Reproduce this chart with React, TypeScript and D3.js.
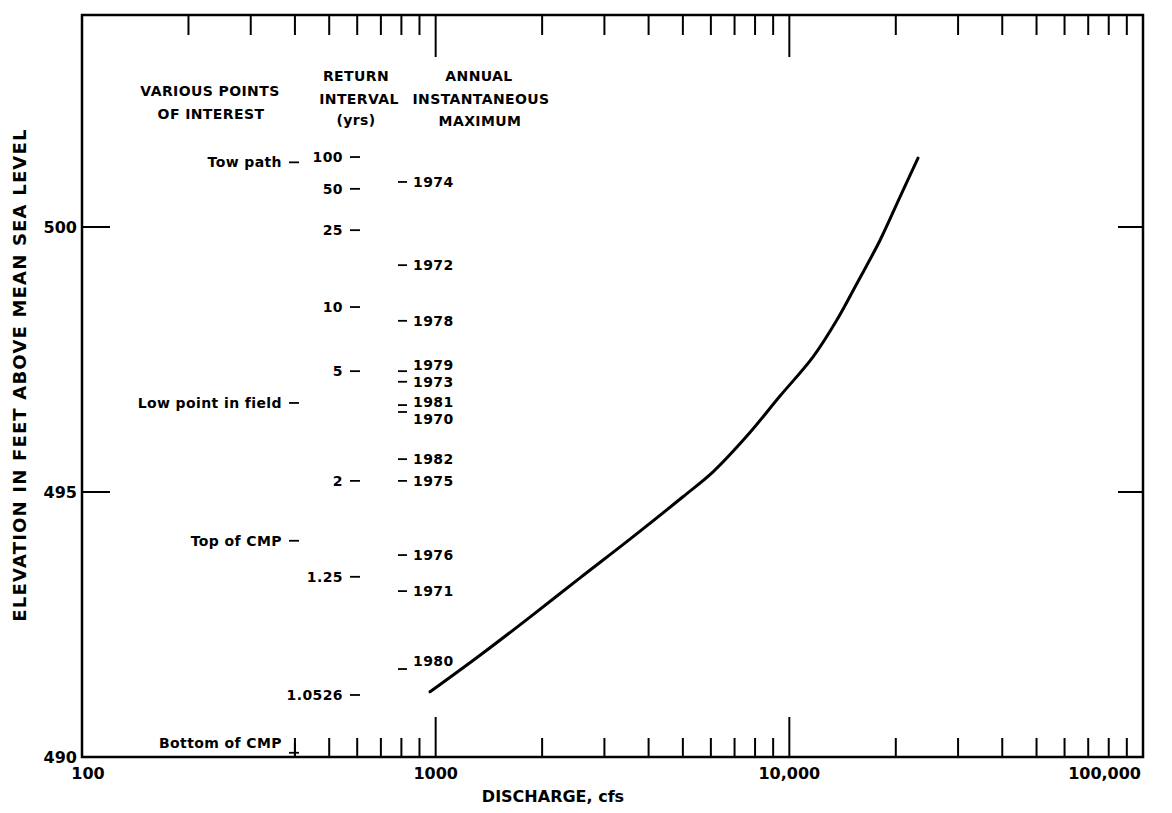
import React from 'react'
import * as d3 from 'd3'

// rating curve, discharge (cfs) vs stage (ft above msl)
const discharge = [964, 1335, 1848, 2560, 3544, 5003, 6085, 7594, 9410, 11670, 13640, 15540, 18050, 20560, 23110]
const elevation = [491.23, 491.92, 492.64, 493.38, 494.11, 494.91, 495.38, 496.06, 496.81, 497.55, 498.25, 498.94, 499.75, 500.57, 501.3]

const pointNames = ['Tow path', 'Low point in field', 'Top of CMP', 'Bottom of CMP']
const pointElev = [501.22, 496.68, 494.08, 490.08]

const returnLabels = ['100', '50', '25', '10', '5', '2', '1.25', '1.0526']
const returnElev = [501.32, 500.72, 499.94, 498.49, 497.28, 495.21, 493.4, 491.17]

const years = ['1974', '1972', '1978', '1979', '1973', '1981', '1970', '1982', '1975', '1976', '1971', '1980']
const yearElev = [500.85, 499.28, 498.23, 497.28, 497.08, 496.64, 496.51, 495.62, 495.21, 493.81, 493.13, 491.66]

const xTickLabels = ['100', '1000', '10,000', '100,000']
const yTickValues = [490, 495, 500]

const width = 1172
const height = 813
const font = '"DejaVu Sans", sans-serif'

// label nudges to keep crowded labels readable (pixels)
const yearDy: Record<string, number> = { '1979': -6, '1981': -3, '1970': 7, '1980': -8 }
const pointDy: Record<string, number> = { 'Bottom of CMP': -10 }

export default function App () {
  const x = d3.scaleLog().domain([100, 100000]).range([82, 1143])
  const y = d3.scaleLinear().domain([490, 504]).range([757, 15])

  const line = d3.line<number>()
    .x((d, i) => x(discharge[i]))
    .y(d => y(d))
    .curve(d3.curveCatmullRom.alpha(0.5))

  const minor: number[] = []
  ;[100, 1000, 10000].forEach(dec => {
    for (let k = 2; k <= 9; k++) minor.push(dec * k)
  })
  const major = [1000, 10000]
  const bottomMinor = minor.filter(v => v >= 400)

  const top = y.range()[1]
  const bottom = y.range()[0]
  const left = x.range()[0]
  const right = x.range()[1]

  const textStyle = { fontFamily: font, fontWeight: 700, fill: '#000' }

  return (
    <svg width={width} height={height} style={{ position: 'absolute', left: 0, top: 0, background: '#fff' }}>
      <rect x={0} y={0} width={width} height={height} fill='#fff' />
      <g stroke='#000' fill='none'>
        <rect x={left} y={top} width={right - left} height={bottom - top} strokeWidth={2.5} />
        {minor.map(v => <line key={'tm' + v} x1={x(v)} x2={x(v)} y1={top} y2={top + 20} strokeWidth={2} />)}
        {major.map(v => <line key={'tM' + v} x1={x(v)} x2={x(v)} y1={top} y2={top + 42} strokeWidth={2} />)}
        {bottomMinor.map(v => <line key={'bm' + v} x1={x(v)} x2={x(v)} y1={bottom} y2={bottom - 19} strokeWidth={2} />)}
        {major.map(v => <line key={'bM' + v} x1={x(v)} x2={x(v)} y1={bottom} y2={bottom - 40} strokeWidth={2} />)}
        {[495, 500].map(v => (
          <g key={'yt' + v}>
            <line x1={left} x2={left + 28} y1={y(v)} y2={y(v)} strokeWidth={2} />
            <line x1={right} x2={right - 25} y1={y(v)} y2={y(v)} strokeWidth={2} />
          </g>
        ))}
        <path d={line(elevation) || ''} strokeWidth={3} strokeLinecap='round' />
        {pointElev.map((v, i) => <line key={'pd' + i} x1={289} x2={299} y1={y(v)} y2={y(v)} strokeWidth={1.8} />)}
        <line x1={x(400)} x2={x(400)} y1={y(pointElev[3]) - 10} y2={bottom} strokeWidth={2} />
        {returnElev.map((v, i) => <line key={'rd' + i} x1={350} x2={360} y1={y(v)} y2={y(v)} strokeWidth={1.8} />)}
        {yearElev.map((v, i) => <line key={'yd' + i} x1={398} x2={407} y1={y(v)} y2={y(v)} strokeWidth={1.8} />)}
      </g>

      <g style={textStyle} fontSize={14} letterSpacing={0.4}>
        <text x={210} y={96} textAnchor='middle'>VARIOUS POINTS</text>
        <text x={211} y={119} textAnchor='middle'>OF INTEREST</text>
        <text x={356} y={81} textAnchor='middle'>RETURN</text>
        <text x={359} y={104} textAnchor='middle'>INTERVAL</text>
        <text x={356} y={125} textAnchor='middle'>(yrs)</text>
        <text x={479} y={81} textAnchor='middle'>ANNUAL</text>
        <text x={481} y={104} textAnchor='middle'>INSTANTANEOUS</text>
        <text x={480} y={126} textAnchor='middle'>MAXIMUM</text>

        {pointNames.map((n, i) => (
          <text key={n} x={282} y={y(pointElev[i]) + (pointDy[n] || 0)} dy='0.35em' textAnchor='end'>{n}</text>
        ))}
        {returnLabels.map((n, i) => (
          <text key={n} x={343} y={y(returnElev[i])} dy='0.35em' textAnchor='end'>{n}</text>
        ))}
        {years.map((n, i) => (
          <text key={n} x={413} y={y(yearElev[i]) + (yearDy[n] || 0)} dy='0.35em'>{n}</text>
        ))}
      </g>

      <g style={textStyle} fontSize={16}>
        {xTickLabels.map((t, i) => {
          const v = Math.pow(10, i + 2)
          const anchor = i === 3 ? 'end' : 'middle'
          const xx = i === 0 ? x(v) + 6 : i === 3 ? x(v) - 2 : x(v)
          return <text key={t} x={xx} y={779} textAnchor={anchor}>{t}</text>
        })}
        {yTickValues.map(v => (
          <text key={v} x={77} y={y(v)} dy='0.36em' textAnchor='end'>{v}</text>
        ))}
        <text x={553} y={802} textAnchor='middle'>DISCHARGE, cfs</text>
        <text transform={`translate(26,${375}) rotate(-90)`} textAnchor='middle' fontSize={18} letterSpacing={1.2}>
          ELEVATION IN FEET ABOVE MEAN SEA LEVEL
        </text>
      </g>
    </svg>
  )
}
